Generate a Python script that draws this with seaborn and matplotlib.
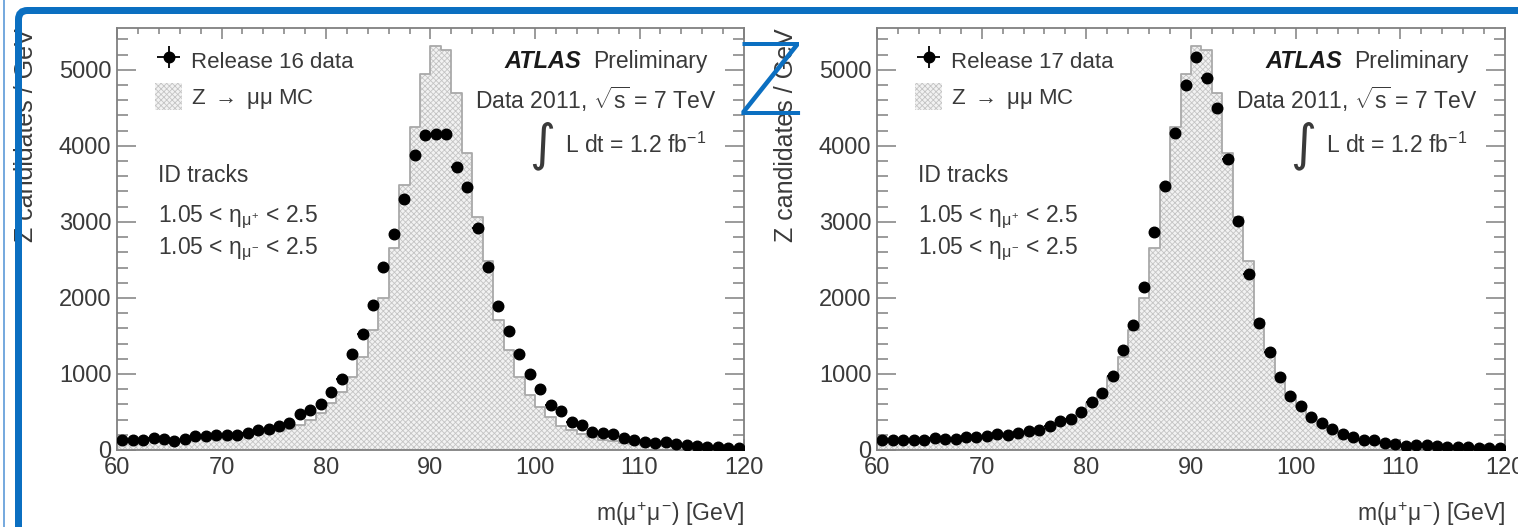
import numpy as np
import pandas as pd
import matplotlib
matplotlib.use("Agg")
import matplotlib.pyplot as plt
import seaborn as sns
from matplotlib.patches import FancyBboxPatch, Patch
from matplotlib.lines import Line2D
from matplotlib.ticker import MultipleLocator

# ---- dimuon invariant mass spectra, 1 GeV bins from 60 to 120 GeV ----
mass_edges = np.arange(60, 121)
mass_centres = mass_edges[:-1] + 0.5

mc_zmumu = [118, 122, 126, 130, 134, 139, 144, 150, 156, 163,
            171, 180, 191, 205, 222, 245, 278, 325, 392, 485,
            612, 760, 955, 1221, 1572, 2000, 2660, 3480, 4250, 4940,
            5315, 5266, 4690, 3900, 3060, 2480, 1704, 1309, 958, 717,
            563, 432, 322, 262, 205, 165, 135, 113, 96, 83,
            72, 64, 58, 52, 47, 43, 40, 37, 34, 31]

data_rel16 = [125, 125, 138, 158, 147, 120, 147, 178, 178, 191,
              200, 191, 226, 257, 270, 322, 357, 470, 520, 605,
              758, 937, 1266, 1529, 1901, 2405, 2836, 3305, 3875, 4138,
              4151, 4161, 3721, 3458, 2924, 2410, 1892, 1563, 1260, 1005,
              805, 595, 507, 366, 331, 243, 221, 213, 160, 125,
              103, 90, 103, 82, 68, 59, 46, 46, 32, 25]

data_rel17 = [125, 138, 125, 134, 138, 156, 147, 147, 169, 169,
              182, 213, 191, 221, 248, 257, 322, 375, 410, 497,
              625, 755, 967, 1320, 1638, 2150, 2863, 3467, 4170, 4800,
              5165, 4890, 4500, 3832, 3018, 2320, 1673, 1285, 960, 705,
              580, 440, 350, 272, 210, 168, 138, 125, 95, 82,
              59, 72, 72, 59, 46, 40, 37, 29, 26, 22]

release_labels = ["Release 16 data", "Release 17 data"]
mc_label = r"Z $\rightarrow$ $\mu\mu$ MC"
y_title = "Z candidates / GeV"
x_title = r"m($\mu^{+}\mu^{-}$) [GeV]"
x_ticks = [60, 70, 80, 90, 100, 110, 120]
y_ticks = [0, 1000, 2000, 3000, 4000, 5000]

mc_table = pd.DataFrame({"mass": mass_centres, "entries": mc_zmumu})
n_bins = len(mass_centres)
mass_range = (float(mass_edges[0]), float(mass_edges[-1]))

sns.set_style("ticks")
plt.rcParams["font.family"] = ["Liberation Sans", "DejaVu Sans"]
plt.rcParams["mathtext.fontset"] = "custom"
plt.rcParams["mathtext.rm"] = "Liberation Sans"
plt.rcParams["mathtext.it"] = "Liberation Sans"
plt.rcParams["mathtext.bf"] = "Liberation Sans:bold"
plt.rcParams["hatch.linewidth"] = 0.6

TEXT = "#3a3a3a"
FRAME = "#808080"
MC_FILL = "#f2f2f2"
MC_HATCH = "#c4c4c4"
MC_LINE = "#a9a9a9"

W, H = 1518, 527
fig = plt.figure(figsize=(W / 100, H / 100), dpi=100)
fig.patch.set_facecolor("white")

ax_l = fig.add_axes([117 / W, 1 - 450 / H, 627 / W, 422 / H])
ax_r = fig.add_axes([877 / W, 1 - 450 / H, 628 / W, 422 / H])


def draw_panel(ax, counts, data_label):
    # MC template: hatched light-grey filled step histogram with grey outline
    sns.histplot(data=mc_table, x="mass", weights="entries", bins=n_bins,
                 binrange=mass_range, element="step", fill=True,
                 linewidth=0, alpha=1, color=MC_FILL, ax=ax, zorder=1)
    for coll in ax.collections:
        coll.set_facecolor(MC_FILL)
        coll.set_edgecolor(MC_HATCH)
        coll.set_hatch("xxxxxx")
        coll.set_linewidth(0)
    sns.histplot(data=mc_table, x="mass", weights="entries", bins=n_bins,
                 binrange=mass_range, element="step", fill=False,
                 color=MC_LINE, linewidth=1.3, ax=ax, zorder=2)

    # data points with statistical error bars
    cnt = np.asarray(counts, dtype=float)
    eb = ax.errorbar(mass_centres, cnt, xerr=0.5, yerr=np.sqrt(cnt),
                     fmt="o", color="black", ms=7.6, lw=1.3, capsize=0,
                     zorder=4)

    ax.set_xlim(60, 120)
    ax.set_ylim(0, 5550)
    ax.set_xticks(x_ticks)
    ax.set_yticks(y_ticks)
    ax.xaxis.set_minor_locator(MultipleLocator(2))
    ax.yaxis.set_minor_locator(MultipleLocator(200))
    ax.tick_params(axis="both", which="both", direction="in", colors=FRAME,
                   labelcolor=TEXT, labelsize=17, top=True, right=True,
                   width=1.1)
    ax.tick_params(axis="x", which="major", length=8, pad=5)
    ax.tick_params(axis="x", which="minor", length=4)
    ax.tick_params(axis="y", which="major", length=14, pad=4)
    ax.tick_params(axis="y", which="minor", length=8)
    for sp in ax.spines.values():
        sp.set_color(FRAME)
        sp.set_linewidth(1.3)
        sp.set_visible(True)

    ax.set_xlabel(x_title, fontsize=16.5, color=TEXT, loc="right")
    ax.xaxis.set_label_coords(1.0, -0.118)
    ax.set_ylabel(y_title, fontsize=18, color=TEXT, loc="top")
    ax.yaxis.set_label_coords(-0.126, 1.0)

    # legend
    handles = [eb, Patch(facecolor=MC_FILL, edgecolor=MC_HATCH,
                         hatch="xxxxxx", linewidth=0)]
    ax.legend(handles, [data_label, mc_label], loc="upper left",
              bbox_to_anchor=(0.060, 0.955), frameon=False, fontsize=16,
              labelcolor=TEXT, handlelength=1.25, handleheight=1.45,
              handletextpad=0.4, labelspacing=0.45, borderaxespad=0,
              borderpad=0)

    # selection text
    tkw = dict(transform=ax.transAxes, color=TEXT, fontsize=16.5,
               va="center")
    ax.text(0.065, 0.650, "ID tracks", ha="left", **tkw)
    ax.text(0.065, 0.552, r"1.05 < $\eta_{\mu^{+}}$ < 2.5", ha="left", **tkw)
    ax.text(0.065, 0.476, r"1.05 < $\eta_{\mu^{-}}$ < 2.5", ha="left", **tkw)

    # experiment labels
    ax.text(0.741, 0.921, "ATLAS", ha="right", fontweight="bold",
            fontstyle="italic", transform=ax.transAxes, color="#1a1a1a",
            fontsize=17, va="center")
    ax.text(0.759, 0.921, "Preliminary", ha="left", **tkw)
    ax.text(0.957, 0.830, r"Data 2011, $\sqrt{s}$ = 7 TeV", ha="right", **tkw)
    ax.text(0.939, 0.722, r"L dt = 1.2 fb$^{-1}$", ha="right", **tkw)
    ax.text(0.678, 0.722, "\u222b", ha="center", transform=ax.transAxes,
            color=TEXT, fontsize=36, va="center",
            family=["DejaVu Sans", "Liberation Sans"])


draw_panel(ax_l, data_rel16, release_labels[0])
draw_panel(ax_r, data_rel17, release_labels[1])

# blue outline framing the figure
blue = "#0b6fc1"
frame = FancyBboxPatch((18.5, -60), 1560, 516.5 + 60,
                       boxstyle="round,pad=0,rounding_size=9",
                       transform=None, facecolor="none", edgecolor=blue,
                       linewidth=7 * 0.72, zorder=10)
fig.add_artist(frame)
fig.add_artist(Line2D([3.5, 3.5], [0, H], transform=None, color="#4a8fd4",
                      linewidth=1.5 * 0.72, zorder=10))
fig.text(770 / W, 1 - 87 / H, "Z", color=blue, fontsize=71,
         ha="center", va="center", family=["DejaVu Sans", "Liberation Sans"],
         fontweight=200, zorder=11)

fig.savefig("out.png", dpi=100, facecolor="white")
